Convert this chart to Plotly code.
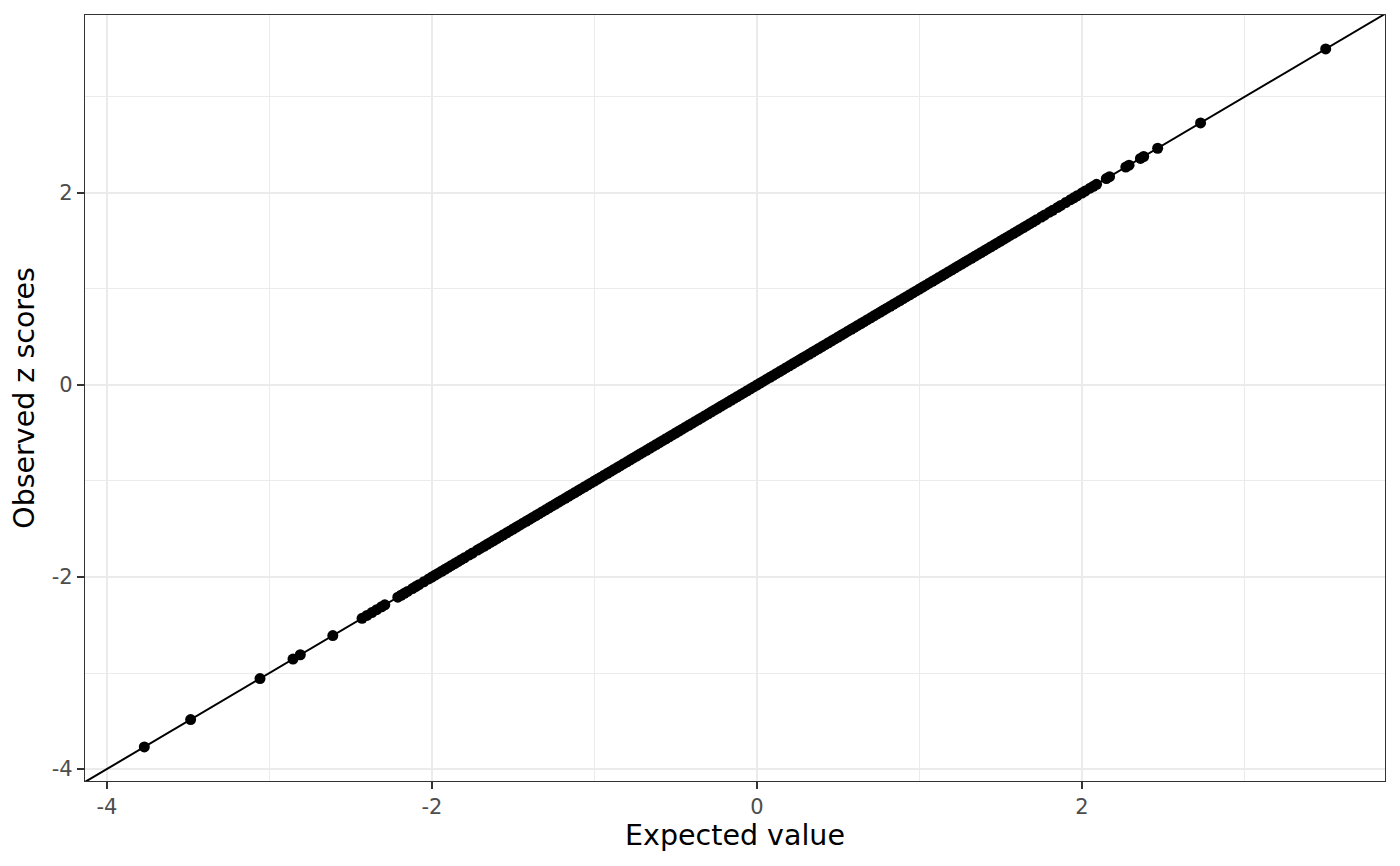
import plotly.graph_objects as go

# Expected (theoretical) quantiles
tail_low = [-3.77, -3.485, -3.058, -2.855, -2.81, -2.61, -2.43, -2.40, -2.37, -2.34,
            -2.31, -2.29, -2.21, -2.19, -2.17, -2.15, -2.12, -2.10, -2.08, -2.05,
            -2.02, -2.00, -1.98, -1.96, -1.94, -1.92, -1.90, -1.88, -1.86, -1.84,
            -1.82, -1.80, -1.77, -1.75, -1.72, -1.70]
body = [-1.68, -1.66, -1.64, -1.62, -1.60, -1.58, -1.56, -1.54, -1.52, -1.50,
        -1.48, -1.46, -1.44, -1.42, -1.40, -1.38, -1.36, -1.34, -1.32, -1.30,
        -1.28, -1.26, -1.24, -1.22, -1.20, -1.18, -1.16, -1.14, -1.12, -1.10,
        -1.08, -1.06, -1.04, -1.02, -1.00, -0.98, -0.96, -0.94, -0.92, -0.90,
        -0.88, -0.86, -0.84, -0.82, -0.80, -0.78, -0.76, -0.74, -0.72, -0.70,
        -0.68, -0.66, -0.64, -0.62, -0.60, -0.58, -0.56, -0.54, -0.52, -0.50,
        -0.48, -0.46, -0.44, -0.42, -0.40, -0.38, -0.36, -0.34, -0.32, -0.30,
        -0.28, -0.26, -0.24, -0.22, -0.20, -0.18, -0.16, -0.14, -0.12, -0.10,
        -0.08, -0.06, -0.04, -0.02, 0.00, 0.02, 0.04, 0.06, 0.08, 0.10,
        0.12, 0.14, 0.16, 0.18, 0.20, 0.22, 0.24, 0.26, 0.28, 0.30,
        0.32, 0.34, 0.36, 0.38, 0.40, 0.42, 0.44, 0.46, 0.48, 0.50,
        0.52, 0.54, 0.56, 0.58, 0.60, 0.62, 0.64, 0.66, 0.68, 0.70,
        0.72, 0.74, 0.76, 0.78, 0.80, 0.82, 0.84, 0.86, 0.88, 0.90,
        0.92, 0.94, 0.96, 0.98, 1.00, 1.02, 1.04, 1.06, 1.08, 1.10,
        1.12, 1.14, 1.16, 1.18, 1.20, 1.22, 1.24, 1.26, 1.28, 1.30,
        1.32, 1.34, 1.36, 1.38, 1.40, 1.42, 1.44, 1.46, 1.48, 1.50,
        1.52, 1.54, 1.56, 1.58, 1.60, 1.62, 1.64, 1.66, 1.68, 1.70]
tail_high = [1.72, 1.75, 1.77, 1.80, 1.82, 1.85, 1.87, 1.90, 1.93, 1.95,
             1.97, 2.00, 2.02, 2.05, 2.07, 2.09, 2.15, 2.17, 2.27, 2.29,
             2.36, 2.38, 2.466, 2.73, 3.50]

expected = tail_low + body + tail_high
# Observed z scores (they sit on the identity line)
observed = [-3.77, -3.485, -3.058, -2.855, -2.81, -2.61, -2.43, -2.40, -2.37, -2.34,
            -2.31, -2.29, -2.21, -2.19, -2.17, -2.15, -2.12, -2.10, -2.08, -2.05,
            -2.02, -2.00, -1.98, -1.96, -1.94, -1.92, -1.90, -1.88, -1.86, -1.84,
            -1.82, -1.80, -1.77, -1.75, -1.72, -1.70] + body + tail_high

line_x = [-5, 5]
line_y = [-5, 5]

x_ticks = [-4, -2, 0, 2]
y_ticks = [-4, -2, 0, 2]

fig = go.Figure()
fig.add_trace(go.Scatter(x=expected, y=observed, mode="markers",
                         marker=dict(color="black", size=11, line=dict(width=0)),
                         showlegend=False, hoverinfo="x+y"))
fig.add_trace(go.Scatter(x=line_x, y=line_y, mode="lines",
                         line=dict(color="black", width=2),
                         showlegend=False, hoverinfo="skip"))

axis_common = dict(
    showgrid=True, gridcolor="#EBEBEB", gridwidth=2.2,
    zeroline=False, showline=True, linecolor="#333333", linewidth=1.3, mirror=True,
    ticks="outside", ticklen=7, tickwidth=2, tickcolor="#333333",
    tickfont=dict(family="DejaVu Sans", size=21, color="#4D4D4D"),
)

fig.update_xaxes(range=[-4.135, 3.865], tickvals=x_ticks,
                 ticktext=[str(v) for v in x_ticks],
                 minor=dict(showgrid=True, gridcolor="#EBEBEB", gridwidth=1.1,
                            tickvals=[-3, -1, 1, 3], ticks=""),
                 title=dict(text="Expected value", standoff=6,
                            font=dict(family="DejaVu Sans", size=28.5, color="black")),
                 **axis_common)
fig.update_yaxes(range=[-4.125, 3.854], tickvals=y_ticks,
                 ticktext=[str(v) for v in y_ticks],
                 minor=dict(showgrid=True, gridcolor="#EBEBEB", gridwidth=1.1,
                            tickvals=[-3, -1, 1, 3], ticks=""),
                 title=dict(text="Observed z scores", standoff=10,
                            font=dict(family="DejaVu Sans", size=28.5, color="black")),
                 **axis_common)

fig.update_layout(width=1392, height=858, plot_bgcolor="white", paper_bgcolor="white",
                  margin=dict(l=77, r=15, t=7, b=85),
                  font=dict(family="DejaVu Sans"))

fig.write_html("out.html")
